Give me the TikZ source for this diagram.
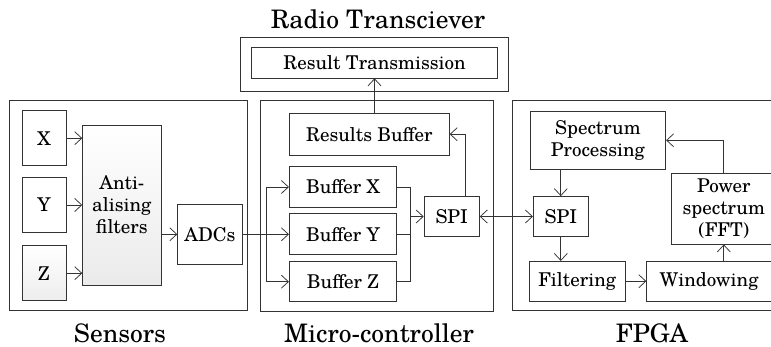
\documentclass[tikz,border=0pt]{standalone}
\usepackage{fontspec}
\setmainfont{TeX Gyre Schola}
\usetikzlibrary{arrows.meta}
\newcommand\bodyfont{\fontsize{19}{22}\selectfont}
\newcommand\labfont{\fontsize{25.5}{28}\selectfont}
\begin{document}
\begin{tikzpicture}[x=1pt,y=-1pt,
  blk/.style={draw=black!80, line width=0.75pt, inner sep=0pt, align=center, font=\bodyfont},
  grp/.style={draw=black!80, line width=0.75pt, inner sep=0pt},
  lab/.style={anchor=base, inner sep=0pt, font=\labfont},
  wire/.style={draw=black!80, line width=0.75pt},
  arr/.style={wire, -{Straight Barb[length=7pt,width=13pt,line width=0.75pt]}},
  arrboth/.style={wire, {Straight Barb[length=7pt,width=13pt,line width=0.75pt]}-{Straight Barb[length=7pt,width=13pt,line width=0.75pt]}}]
\useasboundingbox (0,0) rectangle (771,347);
\fill[white] (0,0) rectangle (771,347);
\clip (0,0) rectangle (771,347);

% group frames
\node[grp, minimum width=238pt, minimum height=210.5pt] (sens) at (128.4,205.3) {};
\node[grp, minimum width=232.8pt, minimum height=211pt] (mcu) at (376.9,205.5) {};
\node[grp, minimum width=267.6pt, minimum height=53.3pt] (radio) at (374.5,64.3) {};
\node[grp, minimum width=277pt, minimum height=210pt] (fpga) at (651.2,205) {};

% group titles
\node[lab] (tsens) at (120,342) {Sensors};
\node[lab] (tmcu) at (379,342) {Micro-controller};
\node[lab] (tfpga) at (652,342) {FPGA};
\node[lab] (tradio) at (378,28.3) {Radio Transciever};

% sensors
\node[blk, minimum width=44pt, minimum height=55pt] (X) at (44,138.2) {X};
\node[blk, minimum width=44pt, minimum height=54.6pt] (Y) at (44,205) {Y};
\node[blk, minimum width=44pt, minimum height=55pt, top color=white, middle color=white, bottom color=black!7] (Z) at (44,273.2) {Z};
\node[blk, minimum width=78.3pt, minimum height=160pt, top color=white, middle color=white, bottom color=black!8] (aaf) at (121.8,205) {Anti-\\alising\\filters};
\node[blk, minimum width=64.6pt, minimum height=60pt] (adc) at (210,234.3) {ADCs};

% micro-controller
\node[blk, minimum width=246.4pt, minimum height=30.3pt] (restx) at (374.5,62.8) {Result Transmission};
\node[blk, minimum width=160pt, minimum height=41.7pt] (resbuf) at (369.3,134.2) {Results Buffer};
\node[blk, minimum width=107.4pt, minimum height=40.6pt] (bufX) at (343,187) {Buffer X};
\node[blk, minimum width=107.4pt, minimum height=41pt] (bufY) at (343,234.3) {Buffer Y};
\node[blk, minimum width=107.4pt, minimum height=40pt] (bufZ) at (343,281.7) {Buffer Z};
\node[blk, minimum width=55.3pt, minimum height=40pt] (spim) at (451.7,216.5) {SPI};

% FPGA
\node[blk, minimum width=135.7pt, minimum height=57.3pt] (spec) at (597.9,140.3) {Spectrum\\Processing};
\node[blk, minimum width=55pt, minimum height=40pt] (spif) at (560.8,216.5) {SPI};
\node[blk, minimum width=95.7pt, minimum height=39.7pt] (filt) at (577.2,281.2) {Filtering};
\node[blk, minimum width=124.8pt, minimum height=39.7pt] (wind) at (709.1,281.2) {Windowing};
\node[blk, minimum width=104.3pt, minimum height=70.7pt] (pow) at (723.8,208.7) {Power\\spectrum\\(FFT)};

% routing points
\coordinate (fork) at (266,234.3);
\coordinate (join) at (410,234.3);
\coordinate (riser) at (465,0);

% sensor chain
\draw[arr] (X.east) -- (X.east -| aaf.west);
\draw[arr] (Y.east) -- (Y.east -| aaf.west);
\draw[arr] (Z.east) -- (Z.east -| aaf.west);
\draw[arr] (adc.west -| aaf.east) -- (adc.west);

% ADCs to the buffers
\draw[arr] (adc.east) -- (bufY.west);
\draw[wire] (fork |- bufX.west) -- (fork |- bufZ.west);
\draw[arr] (fork |- bufX.west) -- (bufX.west);
\draw[arr] (fork |- bufZ.west) -- (bufZ.west);

% buffers to SPI
\draw[wire] (bufX.east) -- (join |- bufX.east) -- (join |- bufZ.east) -- (bufZ.east);
\draw[wire] (bufY.east) -- (join |- bufY.east);
\draw[arr] (join |- spim.west) -- (spim.west);

% SPI to results and out to the radio
\draw[arr] (spim.north -| riser) |- (resbuf.east);
\draw[arr] (restx.south |- resbuf.north) -- (restx.south);

% link between the two SPI ports
\draw[arrboth] (spim.east) -- (spif.west);

% FPGA pipeline
\draw[arr] (spif.north |- spec.south) -- (spif.north);
\draw[arr] (spif.south) -- (spif.south |- filt.north);
\draw[arr] (filt.east) -- (filt.east -| wind.west);
\draw[arr] (pow.south |- wind.north) -- (pow.south);
\draw[arr] (pow.north) |- (spec.east);
\end{tikzpicture}
\end{document}
